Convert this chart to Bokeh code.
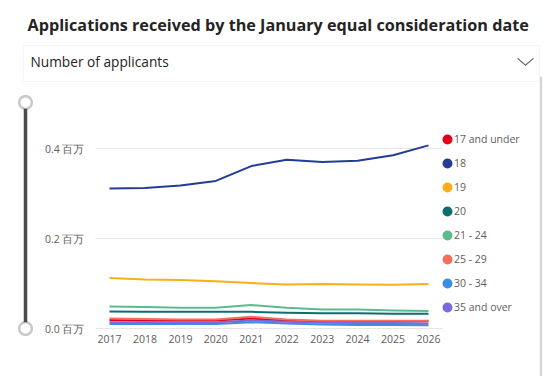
import numpy as np
from bokeh.plotting import figure
from bokeh.models import (Range1d, FixedTicker, CustomJSTickFormatter, Legend, LegendItem,
                          Label, BoxAnnotation, PolyAnnotation, ColumnDataSource)
from bokeh.embed import file_html
from bokeh.resources import INLINE

# ---- data ----
years = [2017, 2018, 2019, 2020, 2021, 2022, 2023, 2024, 2025, 2026]
series_names = ["17 and under", "18", "19", "20", "21 - 24", "25 - 29", "30 - 34", "35 and over"]
series_colors = ["#E3001B", "#233C94", "#FBAE17", "#0E6E6F", "#5BBB8E", "#F66F5B", "#3A8FDD", "#7C68D8"]
s_17_under = [19000, 18000, 18000, 18000, 22000, 18000, 16000, 15000, 16000, 16000]
s_18 = [311000, 312000, 318000, 328000, 361000, 375000, 370000, 373000, 385000, 407000]
s_19 = [112000, 109000, 108000, 105000, 101000, 98000, 99000, 98000, 97000, 99000]
s_20 = [38000, 37000, 37000, 37000, 37000, 35000, 34000, 34000, 33000, 33000]
s_21_24 = [49000, 48000, 46000, 46000, 52000, 46000, 42000, 42000, 40000, 39000]
s_25_29 = [22000, 21000, 20000, 20000, 26000, 20000, 17000, 17000, 17000, 17000]
s_30_34 = [10000, 10000, 10000, 10000, 14000, 11000, 9000, 8000, 8000, 7000]
s_35_over = [14000, 14000, 14000, 14000, 18000, 15000, 13000, 12000, 12000, 11000]
series_values = [s_17_under, s_18, s_19, s_20, s_21_24, s_25_29, s_30_34, s_35_over]
y_ticks = [0, 200000, 400000]

TITLE = "Applications received by the January equal consideration date"
DROPDOWN = "Number of applicants"

# ---- layout (pixels on the canvas) ----
W, H = 554, 376
PX_LEFT, PX_RIGHT = 95, 442        # chart plotting area horizontally
PX_ZERO = 328                      # pixel row of value 0
PX_PER_UNIT_Y = 450 / 1e6          # pixels per applicant
X_FIRST_PX, X_LAST_PX = 109, 428   # pixel column of first / last year

yr_per_px = (years[-1] - years[0]) / (X_LAST_PX - X_FIRST_PX)
chart_x0 = years[0] - (X_FIRST_PX - PX_LEFT) * yr_per_px
chart_x1 = years[-1] + (PX_RIGHT - X_LAST_PX) * yr_per_px
x_start = chart_x0 - PX_LEFT * yr_per_px
x_end = chart_x1 + (W - PX_RIGHT) * yr_per_px
y_start = -(H - PX_ZERO) / PX_PER_UNIT_Y
y_end = PX_ZERO / PX_PER_UNIT_Y

p = figure(width=W, height=H, output_backend="svg", toolbar_location=None,
           x_range=Range1d(x_start, x_end), y_range=Range1d(y_start, y_end),
           min_border=0, min_border_left=0, min_border_right=0,
           min_border_top=0, min_border_bottom=0)
# an off-canvas range used only by the legend swatch renderers
p.extra_y_ranges = {"swatch": Range1d(-2e6, -1e6)}
p.outline_line_color = None
p.background_fill_color = "white"
p.border_fill_color = "white"
p.grid.visible = False

# grid lines limited to the chart area
p.segment(x0=[chart_x0] * len(y_ticks), x1=[chart_x1] * len(y_ticks), y0=y_ticks, y1=y_ticks,
          line_color="#E6E6E6", line_width=1)

for ax in (p.xaxis[0], p.yaxis[0]):
    ax.axis_line_color = None
    ax.major_tick_line_color = None
    ax.minor_tick_line_color = None
    ax.major_tick_out = 0
    ax.major_tick_in = 0
    ax.minor_tick_out = 0
    ax.major_label_text_color = "#605E5C"
    ax.major_label_text_font = "Open Sans"
    ax.major_label_text_font_size = "10.5px"
p.xaxis.ticker = FixedTicker(ticks=years)
p.xaxis.fixed_location = 0
p.xaxis.major_label_standoff = 6
p.yaxis.ticker = FixedTicker(ticks=y_ticks)
p.yaxis.fixed_location = chart_x0
p.yaxis.formatter = CustomJSTickFormatter(code="return (tick/1e6).toFixed(1) + ' 百万';")
p.yaxis.major_label_standoff = 11

items = []
for name, color, vals in zip(series_names, series_colors, series_values):
    src = ColumnDataSource(dict(x=years, y=vals))
    p.line("x", "y", source=src, line_color=color, line_width=2, line_join="round")
    # legend swatch renderer (its points fall outside the canvas)
    dot = p.scatter("x", "y", source=src, y_range_name="swatch",
                    size=0, fill_color=color, line_color=color, line_width=4.4,
                    line_join="round", line_cap="round")
    items.append(LegendItem(label=name, renderers=[dot]))

legend = Legend(items=items, location=(440, 57), orientation="vertical",
                glyph_width=14, glyph_height=24, label_height=20, spacing=0,
                label_standoff=0, padding=0, margin=0,
                border_line_color=None, background_fill_alpha=0,
                label_text_font="Open Sans", label_text_font_size="10.5px",
                label_text_color="#605E5C")
p.add_layout(legend, "center")

# ---- title ----
p.add_layout(Label(x=27, y=24.5, x_units="canvas", y_units="canvas", text=TITLE,
                   text_font="Open Sans", text_font_style="bold", text_font_size="16.2px",
                   text_color="#252423", text_baseline="alphabetic"))

# ---- dropdown ----
p.add_layout(BoxAnnotation(left=23, right=539, top=45, bottom=81,
                           left_units="canvas", right_units="canvas",
                           top_units="canvas", bottom_units="canvas",
                           fill_alpha=0, line_color="#E1E1E1", line_width=1))
p.add_layout(Label(x=30, y=61, x_units="canvas", y_units="canvas", text=DROPDOWN,
                   text_font="Open Sans", text_font_size="13.7px",
                   text_color="#252423", text_baseline="middle"))
p.add_layout(PolyAnnotation(xs=[517, 525, 533, 533, 525, 517], ys=[57, 64, 57, 58.4, 65.4, 58.4],
                            xs_units="canvas", ys_units="canvas",
                            fill_color="#666666", fill_alpha=1, line_color=None))
p.add_layout(BoxAnnotation(left=539.3, right=541.7, top=76, bottom=376,
                           left_units="canvas", right_units="canvas",
                           top_units="canvas", bottom_units="canvas",
                           fill_color="#D6D6D6", fill_alpha=1, line_color=None))

# ---- slider ----
p.add_layout(BoxAnnotation(left=23.25, right=26.75, top=102, bottom=328,
                           left_units="canvas", right_units="canvas",
                           top_units="canvas", bottom_units="canvas",
                           fill_color="#4A4A4A", fill_alpha=1, line_color=None))
t = np.linspace(0, 2 * np.pi, 40, endpoint=False)
for cy in (102, 328):
    p.add_layout(PolyAnnotation(xs=list(25 + 6.3 * np.cos(t)), ys=list(cy + 6.3 * np.sin(t)),
                                xs_units="canvas", ys_units="canvas",
                                fill_color="white", fill_alpha=1,
                                line_color="#4A4A4A", line_width=2.5))

open("out.html", "w").write(file_html(p, INLINE))
